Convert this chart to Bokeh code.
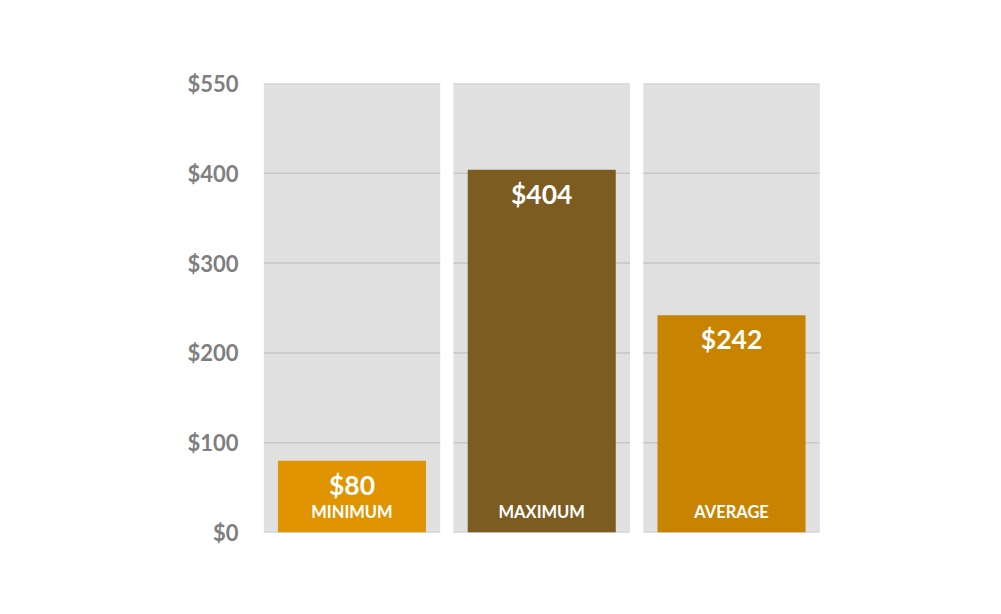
import numpy as np
from bokeh.plotting import figure
from bokeh.models import Range1d, FixedTicker, ColumnDataSource
from bokeh.core.properties import value
from bokeh.embed import file_html
from bokeh.resources import INLINE

categories = ['MINIMUM', 'MAXIMUM', 'AVERAGE']
amounts = [80, 404, 242]
bar_colors = ['#E09400', '#7D5C22', '#C88400']
tick_values = [0, 100, 200, 300, 400, 500]
tick_labels = ['$0', '$100', '$200', '$300', '$400', '$550']

xs = np.arange(len(categories))

p = figure(width=985, height=598, output_backend="svg", toolbar_location=None,
           x_range=Range1d(-0.466, 2.474), y_range=Range1d(0, 500),
           min_border_left=263, min_border_top=83, min_border_right=164, min_border_bottom=66)
p.outline_line_color = None
p.background_fill_color = 'white'
p.xgrid.visible = False
p.ygrid.visible = False
p.xaxis.visible = False

# gray panels behind each bar
p.vbar(x=xs, top=tick_values[-1], bottom=0, width=0.93, fill_color='#E0E0E0', line_color=None)

# gridlines only inside the panels
gx0, gx1, gy = [], [], []
for x in xs:
    for t in tick_values:
        gx0.append(x - 0.465)
        gx1.append(x + 0.465)
        gy.append(t)
p.segment(x0=gx0, y0=gy, x1=gx1, y1=gy, line_color='#C6C6C6', line_width=1.5)

src = ColumnDataSource(dict(x=xs, top=amounts, color=bar_colors, cat=categories,
                            lab=['$%d' % a for a in amounts]))
p.vbar(x='x', top='top', bottom=0, width=0.78, fill_color='color', line_color=None, source=src)

p.text(x='x', y='top', text='lab', source=src, text_color='white',
       text_font=value('Lato'), text_font_style='bold', text_font_size='26.5px',
       text_align='center', text_baseline='top', y_offset=8)
p.text(x='x', y=0, text='cat', source=src, text_color='white',
       text_font=value('Lato'), text_font_style='bold', text_font_size='16.5px',
       text_align='center', text_baseline='bottom', y_offset=-11)

ax = p.yaxis[0]
ax.ticker = FixedTicker(ticks=tick_values)
ax.major_label_overrides = {t: l for t, l in zip(tick_values, tick_labels)}
ax.axis_line_color = None
ax.major_tick_line_color = None
ax.minor_tick_line_color = None
ax.major_label_text_font = 'Lato'
ax.major_label_text_font_style = 'bold'
ax.major_label_text_font_size = '22px'
ax.major_label_text_color = '#7F7F7F'
ax.major_label_standoff = 19

open("out.html", "w").write(file_html(p, INLINE))
